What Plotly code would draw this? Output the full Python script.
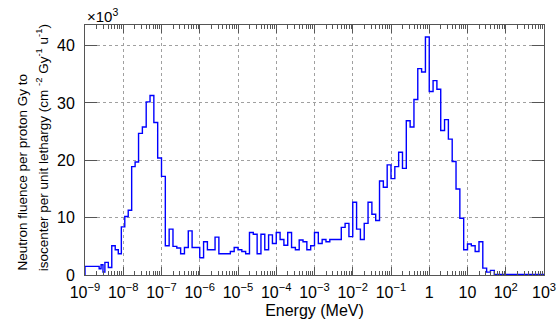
import plotly.graph_objects as go

# Bin lower edges (log10 of energy in MeV) for the irregular low-energy bins
edges_low = [-9.0, -8.63, -8.58, -8.53, -8.48, -8.39, -8.30, -8.21, -8.13, -8.05,
             -7.96, -7.87, -7.78, -7.69, -7.60, -7.50, -7.40, -7.30, -7.20, -7.10]
vals_low = [1.5, 1.1, 1.8, 0.5, 2.2, 1.3, 5.1, 4.4, 3.7, 8.4,
            10.2, 11.3, 18.9, 19.7, 24.7, 25.8, 30.2, 31.3, 26.6, 20.4]

# Uniform 0.1-decade bins from 1e-7 MeV to 1e3 MeV (values in units of 1e3)
vals_high = [
    17.2, 5.1, 8.0, 5.0, 4.7, 3.7, 4.8, 7.7, 4.8, 4.8,      # 1e-7 .. 1e-6
    3.0, 5.8, 4.4, 4.4, 6.6, 3.7, 3.7, 3.7, 4.1, 4.8,       # 1e-6 .. 1e-5
    4.4, 4.1, 3.7, 7.4, 7.1, 3.7, 7.1, 4.4, 7.0, 5.5,       # 1e-5 .. 1e-4
    7.4, 6.2, 5.2, 7.4, 4.8, 4.4, 6.1, 5.8, 4.4, 5.1,       # 1e-4 .. 1e-3
    7.4, 5.5, 6.2, 5.8, 6.2, 6.2, 6.2, 8.3, 9.0, 6.7,       # 1e-3 .. 1e-2
    12.7, 8.0, 6.2, 9.0, 12.7, 10.6, 9.5, 16.4, 15.3, 19.2, # 1e-2 .. 1e-1
    16.8, 18.9, 21.4, 18.6, 26.9, 25.8, 30.6, 36.0, 35.4, 41.5,  # 1e-1 .. 1
    32.0, 33.9, 32.4, 25.2, 27.1, 23.7, 19.8, 15.0, 9.9, 4.4,    # 1 .. 10
    5.4, 5.1, 4.1, 5.8, 1.2, 0.5, 0.8, 0.1, 0.1, 0.1,       # 10 .. 100
    0.1, 0.1, 0.1, 0.1, 0.1, 0.1, 0.1, 0.1, 0.1, 0.1,       # 100 .. 1000
]
high_start, high_step = -7.0, 0.1

tick_vals = [1e-9, 1e-8, 1e-7, 1e-6, 1e-5, 1e-4, 1e-3, 1e-2, 1e-1, 1, 10, 100, 1000]
tick_text = ["10<sup>−9</sup>", "10<sup>−8</sup>", "10<sup>−7</sup>", "10<sup>−6</sup>",
             "10<sup>−5</sup>", "10<sup>−4</sup>", "10<sup>−3</sup>", "10<sup>−2</sup>",
             "10<sup>−1</sup>", "1", "10", "10<sup>2</sup>", "10<sup>3</sup>"]
y_ticks = [0, 10, 20, 30, 40]

# build step outline
log_edges = edges_low + [round(high_start + high_step * i, 3) for i in range(len(vals_high) + 1)]
values = vals_low + vals_high
xs = [10 ** log_edges[0]] + [10 ** e for e in log_edges[:-1]] + [10 ** log_edges[-1]]
ys = [0] + values + [0]

minor_vals = [m * d for d in tick_vals[:-1] for m in range(2, 10)]

FONT = "Liberation Sans, Arial, Helvetica, sans-serif"
AXC = "#555555"
GRIDC = "#a0a0a0"

fig = go.Figure()
fig.add_trace(go.Scatter(x=xs, y=ys, mode="lines", line=dict(color="#0000ff", width=1.4, shape="hv"),
                         showlegend=False, hoverinfo="skip"))
fig.add_trace(go.Scatter(x=[1e-9], y=[0], xaxis="x2", mode="markers", marker=dict(opacity=0),
                         showlegend=False, hoverinfo="skip"))

fig.update_layout(
    template="none",
    width=560, height=322,
    margin=dict(l=85, r=16, t=25, b=47, autoexpand=False),
    paper_bgcolor="white", plot_bgcolor="white",
    font=dict(family=FONT, size=16, color="black"),
    xaxis=dict(type="log", range=[-9, 3], tickvals=tick_vals, ticktext=tick_text, automargin=False,
               ticks="inside", ticklen=8, tickcolor=AXC, showline=True, linecolor=AXC, linewidth=1,
               mirror="ticks", showgrid=True, gridcolor=GRIDC, griddash="dot", gridwidth=1,
               zeroline=False, tickfont=dict(size=16), ticklabelstandoff=3,
               title=dict(text="Energy (MeV)", font=dict(size=16), standoff=4)),
    xaxis2=dict(type="log", range=[-9, 3], overlaying="x", anchor="y", side="bottom", automargin=False,
                tickvals=minor_vals, ticks="inside", ticklen=4, tickcolor=AXC,
                showticklabels=False, showgrid=False, showline=False, mirror="ticks", zeroline=False),
    yaxis=dict(range=[0, 43.6], tickvals=y_ticks, ticks="inside", ticklen=12, tickcolor=AXC,
               showline=True, linecolor=AXC, linewidth=1, mirror="ticks", automargin=False,
               showgrid=True, gridcolor=GRIDC, griddash="dot", gridwidth=1, zeroline=False,
               tickfont=dict(size=16), ticklabelstandoff=6),
    annotations=[
        dict(text="×10<sup>3</sup>", x=0, y=1, xref="paper", yref="paper", xanchor="left",
             yanchor="bottom", showarrow=False, font=dict(size=15), yshift=-2),
        dict(text="Neutron fluence per proton Gy to", x=-0.137, y=0.008, xref="paper", yref="paper",
             xanchor="center", yanchor="bottom", textangle=-90, showarrow=False, font=dict(size=13.5)),
        dict(text="isocenter per unit lethargy (cm <sup>-2</sup> Gy<sup>-1</sup> u<sup>-1</sup>)",
             x=-0.094, y=0.008, xref="paper", yref="paper",
             xanchor="center", yanchor="bottom", textangle=-90, showarrow=False, font=dict(size=13.5)),
    ],
)

fig.write_html("out.html")
